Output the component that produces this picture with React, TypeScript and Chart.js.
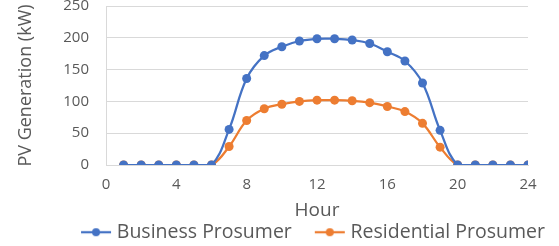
import React, { useEffect, useRef } from "react";
import { Chart, registerables } from "chart.js";

Chart.register(...registerables);

const hours = [1, 2, 3, 4, 5, 6, 7, 8, 9, 10, 11, 12, 13, 14, 15, 16, 17, 18, 19, 20, 21, 22, 23, 24];
const business = [0, 0, 0, 0, 0, 0, 56, 136, 172, 186, 195, 198.5, 198.5, 196.5, 191, 178, 163.5, 129, 54.5, 0, 0, 0, 0, 0];
const residential = [0, 0, 0, 0, 0, 0, 29, 70, 88.5, 95.5, 100, 102, 102, 101, 98, 92, 84, 65.5, 28, 0, 0, 0, 0, 0];
const xTicks = [0, 4, 8, 12, 16, 20, 24];
const yTicks = [0, 50, 100, 150, 200, 250];

const BLUE = "#4472C4";
const ORANGE = "#ED7D31";
const TEXT = "#595959";
const GRID = "#D9D9D9";
const FONT = "'Open Sans', sans-serif";

const CANVAS_W = 559;
const CANVAS_H = 272;
const CANVAS_TOP = -20;
const LEGEND_SHIFT = 51;

function legendMarker(color: string): HTMLCanvasElement {
  const c = document.createElement("canvas");
  c.width = 32;
  c.height = 10;
  const ctx = c.getContext("2d")!;
  ctx.strokeStyle = color;
  ctx.lineWidth = 2.25;
  ctx.beginPath();
  ctx.moveTo(1, 5);
  ctx.lineTo(31, 5);
  ctx.stroke();
  ctx.fillStyle = color;
  ctx.beginPath();
  ctx.arc(16, 5, 4, 0, Math.PI * 2);
  ctx.fill();
  return c;
}

const shiftLegend = {
  id: "shiftLegend",
  afterLayout(chart: any) {
    const l = chart.legend;
    if (l) {
      l.left += LEGEND_SHIFT;
      l.right += LEGEND_SHIFT;
    }
  },
};

export default function App() {
  const ref = useRef<HTMLCanvasElement>(null);
  useEffect(() => {
    const markers = [legendMarker(BLUE), legendMarker(ORANGE)];
    const chart = new Chart(ref.current!, {
      type: "line",
      data: {
        datasets: [
          {
            label: "Business Prosumer",
            data: hours.map((h, i) => ({ x: h, y: business[i] })),
            borderColor: BLUE,
            backgroundColor: BLUE,
            borderWidth: 2.25,
            pointRadius: 4.5,
            pointBackgroundColor: BLUE,
            pointBorderWidth: 0,
            tension: 0.4,
          },
          {
            label: "Residential Prosumer",
            data: hours.map((h, i) => ({ x: h, y: residential[i] })),
            borderColor: ORANGE,
            backgroundColor: ORANGE,
            borderWidth: 2.25,
            pointRadius: 4.5,
            pointBackgroundColor: ORANGE,
            pointBorderWidth: 0,
            tension: 0.4,
          },
        ],
      },
      plugins: [shiftLegend],
      options: {
        animation: false,
        responsive: false,
        maintainAspectRatio: false,
        layout: { padding: { left: 0, right: 31, top: 0, bottom: 0 } },
        plugins: {
          tooltip: { enabled: false },
          legend: {
            position: "bottom",
            labels: {
              usePointStyle: true,
              pointStyleWidth: 22,
              color: TEXT,
              font: { family: FONT, size: 19.5 },
              padding: 27,
              generateLabels: (ch: any) =>
                ch.data.datasets.map((d: any, i: number) => ({
                  text: d.label,
                  fillStyle: d.borderColor,
                  strokeStyle: d.borderColor,
                  lineWidth: 0,
                  pointStyle: markers[i],
                  datasetIndex: i,
                  hidden: false,
                  fontColor: TEXT,
                })),
            },
          },
        },
        scales: {
          x: {
            type: "linear",
            min: 0,
            max: 24,
            afterBuildTicks: (s: any) => {
              s.ticks = xTicks.map((v) => ({ value: v }));
            },
            afterFit: (s: any) => {
              s.height = 30.5;
            },
            ticks: { color: TEXT, font: { family: FONT, size: 15 }, padding: 11, maxRotation: 0 },
            grid: { display: false, drawTicks: false },
            border: { display: true, color: GRID, width: 1 },
            title: {
              display: true,
              text: "Hour",
              color: TEXT,
              font: { family: FONT, size: 19 },
              padding: { top: 0, bottom: -26 },
            },
          },
          y: {
            min: 0,
            max: 250,
            afterBuildTicks: (s: any) => {
              s.ticks = yTicks.map((v) => ({ value: v }));
            },
            afterFit: (s: any) => {
              s.width = 106;
            },
            ticks: { color: TEXT, font: { family: FONT, size: 15 }, padding: 17 },
            grid: { color: GRID, lineWidth: 1, drawTicks: false },
            border: { display: true, color: GRID, width: 1 },
            title: {
              display: true,
              text: "PV Generation (kW)",
              color: TEXT,
              font: { family: FONT, size: 18 },
              padding: { top: 15, bottom: 0 },
            },
          },
        },
      },
    });
    return () => chart.destroy();
  }, []);
  return (
    <div
      style={{
        position: "absolute",
        left: 0,
        top: 0,
        width: 559,
        height: 246,
        overflow: "hidden",
        background: "#fff",
      }}
    >
      <canvas
        ref={ref}
        width={CANVAS_W}
        height={CANVAS_H}
        style={{ position: "absolute", left: 0, top: CANVAS_TOP, width: CANVAS_W, height: CANVAS_H }}
      />
    </div>
  );
}
